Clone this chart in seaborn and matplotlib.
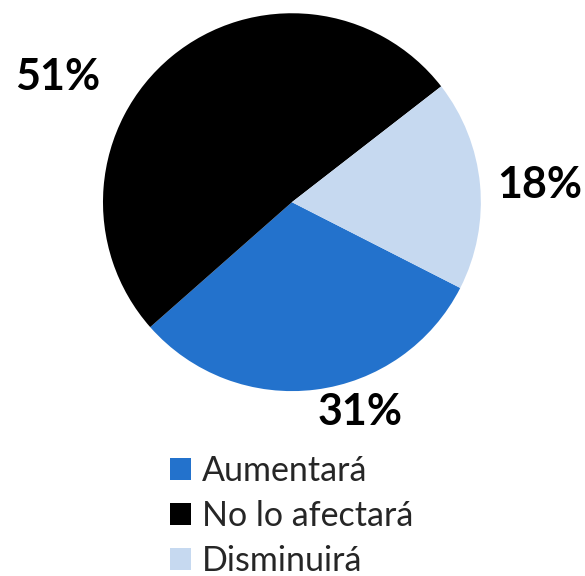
import matplotlib
matplotlib.use("Agg")
import matplotlib.pyplot as plt
import seaborn as sns

# data
categories = ["Aumentará", "No lo afectará", "Disminuirá"]
values = [31, 51, 18]
pct_labels = ["31%", "51%", "18%"]
colors = ["#2372CC", "#000000", "#C6D9F0"]

sns.set_theme(style="white")
plt.rcParams['font.family'] = ['Lato', 'DejaVu Sans']

fig = plt.figure(figsize=(5.85, 5.76), dpi=100)
ax = fig.add_axes([0.176, 0.321, 0.646, 0.656])

wedges, _ = ax.pie(values, colors=colors, startangle=-27, counterclock=False,
                   radius=1.0, wedgeprops=dict(linewidth=0))
ax.set_xlim(-1, 1)
ax.set_ylim(-1, 1)
ax.set_aspect('equal')
ax.axis('off')

# label spots picked by eye (Excel "best fit")
label_pos = [(0.36, -1.11), (-1.24, 0.66), (1.31, 0.09)]
for txt, (x, y) in zip(pct_labels, label_pos):
    ax.text(x, y, txt, ha='center', va='center', fontsize=31,
            fontweight='bold', color='black', clip_on=False)

fig.legend(wedges, categories, loc='upper left',
           bbox_to_anchor=(170 / 585, 1 - 455 / 576), frameon=False,
           fontsize=24.5, handlelength=0.62, handleheight=0.62,
           handletextpad=0.32, labelspacing=0.38, borderpad=0, borderaxespad=0)

fig.savefig("out.png", dpi=100)
